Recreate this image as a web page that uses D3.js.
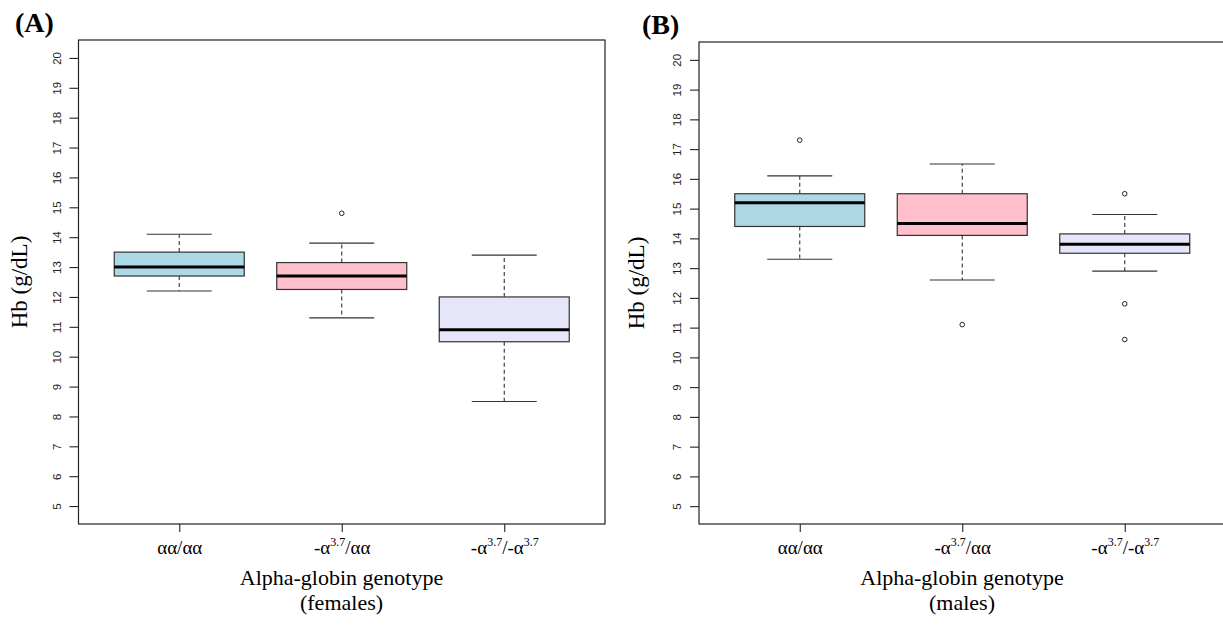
<!DOCTYPE html>
<html>
  <head>
    <meta charset="utf-8">
    <title>Hb by alpha-globin genotype</title>
    <script src="https://cdn.jsdelivr.net/npm/d3@7"></script>
    <style>
      body { margin: 0; background: #fff; }
      svg { display: block; }
      .serif { font-family: "Liberation Serif", "Times New Roman", serif; fill: #000; }
      .sans { font-family: "Liberation Sans", Arial, sans-serif; fill: #222; }
    </style>
  </head>
  <body>
    <svg id="chart" width="1223" height="631"></svg>
    <script>
      // genotype labels: [base, superscript, base, superscript, ...]
      var genotypeParts = [
        ["αα/αα"],
        ["-α", "3.7", "/αα"],
        ["-α", "3.7", "/-α", "3.7"]
      ];
      var yTicks = [5, 6, 7, 8, 9, 10, 11, 12, 13, 14, 15, 16, 17, 18, 19, 20];
      var boxColors = ["#add8e6", "#ffc0cb", "#e6e6fa"];

      // panel A, females
      var femaleLow = [12.2, 11.3, 8.5];
      var femaleQ1 = [12.7, 12.25, 10.5];
      var femaleMedian = [13.0, 12.7, 10.9];
      var femaleQ3 = [13.5, 13.15, 12.0];
      var femaleHigh = [14.1, 13.8, 13.4];
      var femaleOutliers = [[], [14.8], []];

      // panel B, males
      var maleLow = [13.3, 12.6, 12.9];
      var maleQ1 = [14.4, 14.1, 13.5];
      var maleMedian = [15.2, 14.5, 13.8];
      var maleQ3 = [15.5, 15.5, 14.15];
      var maleHigh = [16.1, 16.5, 14.8];
      var maleOutliers = [[17.3], [11.1], [15.5, 11.8, 10.6]];

      var svg = d3.select("#chart");

      function drawPanel(opt) {
        var g = svg.append("g");
        var x = d3.scaleLinear().domain([0.38, 3.62]).range([opt.left, opt.left + 526.5]);
        var y = d3.scaleLinear().domain([4.4, 20.6]).range([524, opt.top]);
        var unit = x(2) - x(1);
        var half = unit * 0.4, staple = unit * 0.2;

        // y axis
        var yAxis = g.append("g")
          .attr("transform", "translate(" + opt.left + ",0)")
          .call(d3.axisLeft(y).tickValues(yTicks).tickSize(9).tickSizeOuter(0));
        yAxis.select(".domain").remove();
        yAxis.selectAll(".tick line").attr("stroke", "#222").attr("stroke-width", 1.1);
        yAxis.selectAll(".tick text")
          .attr("class", "sans")
          .attr("x", 0).attr("y", -22).attr("dy", null)
          .attr("transform", "rotate(-90)")
          .attr("text-anchor", "middle")
          .attr("dominant-baseline", "central")
          .style("font-size", "11.5px");

        // x axis
        var xAxis = g.append("g")
          .attr("transform", "translate(0,524)")
          .call(d3.axisBottom(x).tickValues([1, 2, 3]).tickSize(8).tickSizeOuter(0));
        xAxis.select(".domain").remove();
        xAxis.selectAll(".tick line").attr("stroke", "#222").attr("stroke-width", 1.1);
        xAxis.selectAll(".tick text").each(function (d) {
          var t = d3.select(this).text(null)
            .attr("class", "serif").attr("y", 30).attr("dy", null)
            .style("font-size", "19px");
          genotypeParts[d - 1].forEach(function (p, i) {
            var sup = i % 2 === 1;
            t.append("tspan")
              .attr("dy", sup ? -8 : (i > 0 ? 8 : 0))
              .style("font-size", sup ? "12px" : "19px")
              .text(p);
          });
        });

        // boxes
        var n = opt.low.length;
        for (var i = 0; i < n; i++) {
          var cx = x(i + 1);
          var b = g.append("g");
          b.append("line").attr("x1", cx).attr("x2", cx)
            .attr("y1", y(opt.q3[i])).attr("y2", y(opt.high[i]))
            .attr("stroke", "#333").attr("stroke-width", 1.1).attr("stroke-dasharray", "4,3");
          b.append("line").attr("x1", cx).attr("x2", cx)
            .attr("y1", y(opt.q1[i])).attr("y2", y(opt.low[i]))
            .attr("stroke", "#333").attr("stroke-width", 1.1).attr("stroke-dasharray", "4,3");
          [opt.high[i], opt.low[i]].forEach(function (v) {
            b.append("line").attr("x1", cx - staple).attr("x2", cx + staple)
              .attr("y1", y(v)).attr("y2", y(v))
              .attr("stroke", "#333").attr("stroke-width", 1.1);
          });
          b.append("rect")
            .attr("x", cx - half).attr("width", 2 * half)
            .attr("y", y(opt.q3[i])).attr("height", y(opt.q1[i]) - y(opt.q3[i]))
            .attr("fill", boxColors[i]).attr("stroke", "#333").attr("stroke-width", 1.2);
          b.append("line").attr("x1", cx - half).attr("x2", cx + half)
            .attr("y1", y(opt.median[i])).attr("y2", y(opt.median[i]))
            .attr("stroke", "#000").attr("stroke-width", 3);
          b.selectAll("circle").data(opt.outliers[i]).enter().append("circle")
            .attr("cx", cx).attr("cy", function (v) { return y(v); })
            .attr("r", 2.3).attr("fill", "none").attr("stroke", "#222").attr("stroke-width", 1);
        }

        // frame
        g.append("rect")
          .attr("x", opt.left).attr("y", opt.top)
          .attr("width", 526.5).attr("height", 524 - opt.top)
          .attr("fill", "none").attr("stroke", "#222").attr("stroke-width", 1.2);

        // titles
        var mid = opt.left + 263;
        g.append("text").attr("class", "serif")
          .attr("x", mid).attr("y", 585).attr("text-anchor", "middle")
          .style("font-size", "22px").text("Alpha-globin genotype");
        g.append("text").attr("class", "serif")
          .attr("x", mid).attr("y", 610).attr("text-anchor", "middle")
          .style("font-size", "22px").text(opt.group);
        g.append("text").attr("class", "serif")
          .attr("transform", "translate(" + opt.yTitleX + "," + (opt.top + 524) / 2 + ") rotate(-90)")
          .attr("text-anchor", "middle").attr("dominant-baseline", "central")
          .style("font-size", "23px").text("Hb (g/dL)");
        g.append("text").attr("class", "serif")
          .attr("x", opt.tagX).attr("y", opt.tagY)
          .style("font-size", "28px").style("font-weight", "bold").text(opt.tag);
      }

      drawPanel({
        left: 78.5, top: 40, tag: "(A)", tagX: 15, tagY: 32, yTitleX: 19, group: "(females)",
        low: femaleLow, q1: femaleQ1, median: femaleMedian, q3: femaleQ3, high: femaleHigh,
        outliers: femaleOutliers
      });
      drawPanel({
        left: 699, top: 42, tag: "(B)", tagX: 642, tagY: 34, yTitleX: 636, group: "(males)",
        low: maleLow, q1: maleQ1, median: maleMedian, q3: maleQ3, high: maleHigh,
        outliers: maleOutliers
      });
    </script>
  </body>
</html>
